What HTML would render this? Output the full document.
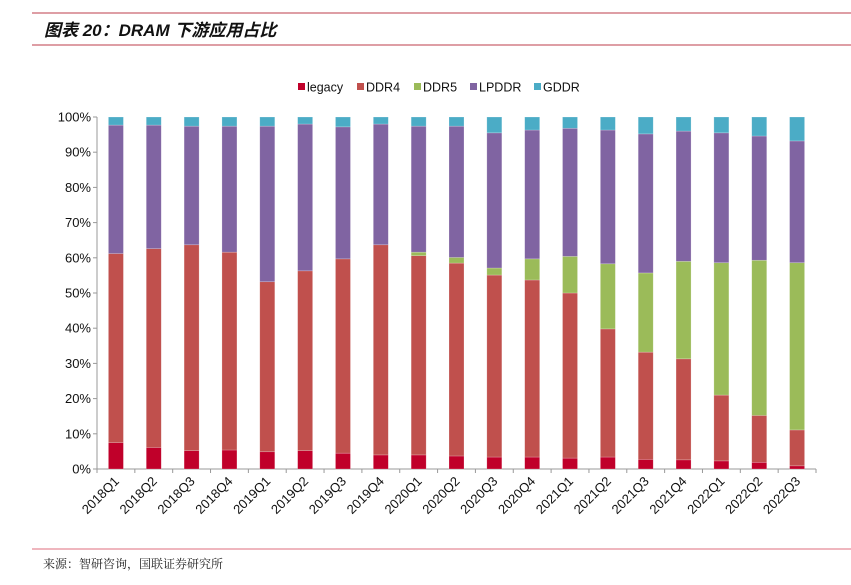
<!DOCTYPE html>
<html><head><meta charset="utf-8"><style>
body{margin:0;width:851px;height:580px;background:#fff;overflow:hidden;font-family:"Liberation Sans","Noto Sans CJK SC",sans-serif}
</style></head><body>
<svg id="chart" width="851" height="580" xmlns="http://www.w3.org/2000/svg">
<line x1="32" y1="13" x2="851" y2="13" stroke="#c9636f" stroke-width="1.2"/>
<text x="44" y="36" font-size="17" font-weight="bold" font-style="italic" font-family="'Liberation Sans','Noto Sans CJK SC',sans-serif" fill="#111">图表 20：DRAM 下游应用占比</text>
<line x1="32" y1="45" x2="851" y2="45" stroke="#c9636f" stroke-width="1.2"/>
<g id="legend"></g>
<g id="axes"></g>
<g id="bars"></g>
<line x1="32" y1="549" x2="851" y2="549" stroke="#e58a98" stroke-width="1.2"/>
<text x="43" y="568" font-size="12" font-family="'Noto Serif CJK SC',serif" fill="#222">来源：智研咨询，国联证券研究所</text>
</svg>
<script>
const categories=["2018Q1","2018Q2","2018Q3","2018Q4","2019Q1","2019Q2","2019Q3","2019Q4","2020Q1","2020Q2","2020Q3","2020Q4","2021Q1","2021Q2","2021Q3","2021Q4","2022Q1","2022Q2","2022Q3"];
const seriesNames=["legacy","DDR4","DDR5","LPDDR","GDDR"];
const legacy=[7.5,6.1,5.2,5.4,4.9,5.2,4.5,4.0,4.0,3.7,3.4,3.4,3.1,3.4,2.7,2.6,2.3,1.9,0.9];
const ddr4=[53.7,56.5,58.5,56.2,48.3,51.1,55.2,59.7,56.6,54.8,51.7,50.3,46.9,36.4,30.5,28.7,18.7,13.3,10.2];
const ddr5=[0,0,0,0,0,0,0,0,1.0,1.6,2.0,6.0,10.4,18.5,22.5,27.7,37.6,44.1,47.5];
const lpddr=[36.5,35.1,33.7,35.8,44.2,41.7,37.5,34.3,35.8,37.3,38.4,36.6,36.4,38.0,39.5,37.0,36.9,35.3,34.6];
const gddr=[2.3,2.3,2.6,2.6,2.6,2.0,2.8,2.0,2.6,2.6,4.5,3.7,3.2,3.7,4.8,4.0,4.5,5.4,6.8];
const yTicks=[0,10,20,30,40,50,60,70,80,90,100];
const colors=["#c0002a","#c0504d","#9bbb59","#8064a2","#4bacc6"];
const NS="http://www.w3.org/2000/svg";
const X0=97,X1=816,Y0=469,Y1=117;
const step=(X1-X0)/categories.length;
const xC=i=>X0+step*(i+0.5);
const yS=v=>Y0-(Y0-Y1)*v/100;
function mk(t,a,p){const e=document.createElementNS(NS,t);for(const k in a)e.setAttribute(k,a[k]);p.appendChild(e);return e;}
const axes=document.getElementById('axes'),bars=document.getElementById('bars'),leg=document.getElementById('legend');
let ax=mk('line',{x1:X0,y1:Y1,x2:X0,y2:Y0,stroke:'#999'},axes);


let bx=mk('line',{x1:X0,y1:Y0,x2:X1,y2:Y0,stroke:'#999'},axes);


yTicks.forEach(v=>{const y=yS(v);
mk('line',{x1:X0-4,y1:y,x2:X0,y2:y,stroke:'#999'},axes);
const t=mk('text',{x:X0-6,y:y+4.5,'font-size':13,'text-anchor':'end',fill:'#111'},axes);t.textContent=v+'%';

});
for(let i=0;i<=categories.length;i++){const x=X0+step*i;mk('line',{x1:x,y1:Y0,x2:x,y2:Y0+4,stroke:'#999'},axes);}
const data=[legacy,ddr4,ddr5,lpddr,gddr];
categories.forEach((c,i)=>{let cum=0;const cx=xC(i);
data.forEach((s,k)=>{const v=s[i];if(v>0){const r=mk('rect',{x:cx-7.5,y:yS(cum+v),width:15,height:yS(cum)-yS(cum+v),fill:colors[k],stroke:'rgba(255,255,255,0.35)','stroke-width':0.6},bars);

}cum+=v;});
const t=mk('text',{x:cx+4,y:Y0+13,'font-size':13,'text-anchor':'end',fill:'#111',transform:`rotate(-45 ${cx+4} ${Y0+13})`},axes);t.textContent=c;

});
const lx=[298,357,414,470,534];
seriesNames.forEach((n,k)=>{const g=mk('g',{},leg);


mk('rect',{x:lx[k],y:83,width:7,height:7,fill:colors[k]},g);
const t=mk('text',{x:lx[k]+9,y:91.5,'font-size':12.5,fill:'#111'},g);t.textContent=n;});
</script>
</body></html>
